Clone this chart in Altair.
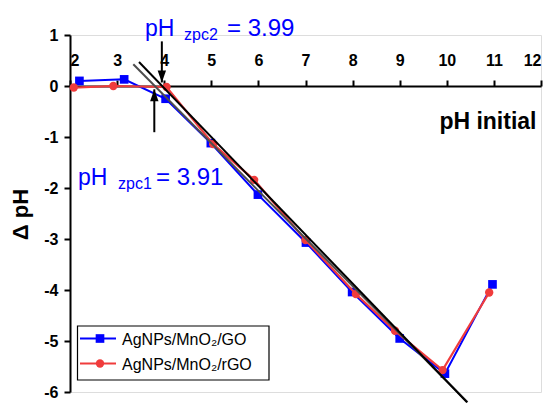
import altair as alt
import pandas as pd

# ---------------- data ----------------
series_names = ["AgNPs/MnO₂/GO", "AgNPs/MnO₂/rGO"]
series_colors = ["#0000FF", "#F03C3C"]

ph_go = [2.2, 3.15, 4.03, 4.99, 5.99, 7.01, 7.99, 9.0, 9.96, 10.97]
dph_go = [0.1, 0.13, -0.25, -1.12, -2.13, -3.07, -4.04, -4.95, -5.64, -3.89]

ph_rgo = [2.08, 2.92, 4.05, 5.04, 5.91, 7.0, 8.07, 8.9, 9.91, 10.9]
dph_rgo = [-0.03, 0.0, -0.02, -1.14, -1.84, -3.02, -4.08, -4.8, -5.57, -4.05]

# tangent lines (two end points each)
tan2_ph = [3.465, 10.43]
tan2_dph = [0.47, -6.2]
tan1_ph = [3.344, 10.44]
tan1_dph = [0.425, -6.2]

# arrows: x, start, tip
arrow_down = {"ph": 3.95, "start": 0.875, "tip": 0.07}
arrow_up = {"ph": 3.79, "start": -0.906, "tip": -0.065}

zpc1_value = "3.91"
zpc2_value = "3.99"

x_ticks = list(range(2, 13))
y_ticks = list(range(-6, 2))

FONT = "Liberation Sans"
W, H = 471, 357

# ---------------- encodings ----------------
def xenc(field):
    return alt.X(
        f"{field}:Q",
        scale=alt.Scale(domain=[2, 12], nice=False, zero=False),
        axis=alt.Axis(
            orient="top", offset=-51, values=x_ticks, grid=False,
            labelExpr="'' + datum.value", labelFont=FONT, labelFontSize=16,
            labelFontWeight="bold", labelColor="black", labelPadding=12,
            tickSize=6, tickWidth=2, tickColor="black",
            domainWidth=2, domainColor="black",
            title="pH initial", titleFont=FONT, titleFontSize=23,
            titleFontWeight="bold", titleColor="black",
            titleX=466, titleY=42, titleAlign="right",
            titleBaseline="alphabetic", titleAngle=0,
        ),
    )


def yenc(field):
    return alt.Y(
        f"{field}:Q",
        scale=alt.Scale(domain=[-6, 1], nice=False, zero=False),
        axis=alt.Axis(
            values=y_ticks, grid=False,
            labelExpr="'' + datum.value", labelFont=FONT, labelFontSize=16,
            labelFontWeight="bold", labelColor="black", labelPadding=6,
            tickSize=6, tickWidth=2, tickColor="black",
            domainWidth=2, domainColor="black",
            title="Δ pH", titleFont=FONT, titleFontSize=22,
            titleFontWeight="bold", titleColor="black",
            titleAngle=270, titleX=-43, titleY=179,
            titleAlign="center", titleBaseline="alphabetic",
        ),
    )


go_df = pd.DataFrame({"ph": ph_go, "dph": dph_go})
rgo_df = pd.DataFrame({"ph": ph_rgo, "dph": dph_rgo})
tan1_df = pd.DataFrame({"ph": tan1_ph, "dph": tan1_dph})
tan2_df = pd.DataFrame({"ph": tan2_ph, "dph": tan2_dph})
arrow_df = pd.DataFrame([arrow_down, arrow_up])
arrow_down_df = pd.DataFrame([arrow_down])
arrow_up_df = pd.DataFrame([arrow_up])
one = pd.DataFrame({"k": [0]})

layers = []

# series
go_line = alt.Chart(go_df).mark_line(color=series_colors[0], strokeWidth=2).encode(
    x=xenc("ph"), y=yenc("dph"))
go_pts = alt.Chart(go_df).mark_point(shape="square", filled=True, size=75,
                                     color=series_colors[0], opacity=1).encode(
    x=xenc("ph"), y=yenc("dph"))
rgo_line = alt.Chart(rgo_df).mark_line(color=series_colors[1], strokeWidth=2.2).encode(
    x=xenc("ph"), y=yenc("dph"))
rgo_pts = alt.Chart(rgo_df).mark_point(shape="circle", filled=True, size=70,
                                       color=series_colors[1], opacity=1).encode(
    x=xenc("ph"), y=yenc("dph"))
layers += [go_line, go_pts, rgo_line, rgo_pts]

# tangent lines
t1 = alt.Chart(tan1_df).mark_line(color="#4d4d4d", strokeWidth=2, clip=False).encode(
    x=xenc("ph"), y=yenc("dph"))
t2 = alt.Chart(tan2_df).mark_line(color="black", strokeWidth=2, clip=False).encode(
    x=xenc("ph"), y=yenc("dph"))
layers += [t1, t2]

# arrows
shafts = alt.Chart(arrow_df).mark_rule(color="black", strokeWidth=2).encode(
    x=xenc("ph"), y=yenc("start"), y2="tip:Q")
head_down = alt.Chart(arrow_down_df).mark_point(
    shape="M-0.7,-2L0.7,-2L0,0Z", filled=True, size=144, color="black", opacity=1
).encode(x=xenc("ph"), y=yenc("tip"))
head_up = alt.Chart(arrow_up_df).mark_point(
    shape="M-0.7,2L0.7,2L0,0Z", filled=True, size=144, color="black", opacity=1
).encode(x=xenc("ph"), y=yenc("tip"))
layers += [shafts, head_down, head_up]


# annotation text (pixel positions relative to plot area)
def txt(text, x, y, size, color="#0000FF", weight="normal"):
    return alt.Chart(one).mark_text(
        text=text, font=FONT, fontSize=size, color=color, fontWeight=weight,
        align="left", baseline="alphabetic"
    ).encode(x=alt.value(x), y=alt.value(y))


layers += [
    txt("pH", 75, 1, 23), txt("zpc2", 114, 5, 16), txt("= " + zpc2_value, 157, 1, 24),
    txt("pH", 8, 150, 23), txt("zpc1", 48, 154, 16), txt("= " + zpc1_value, 86, 150, 24),
]

# legend (manual)
legend_box = alt.Chart(one).mark_rect(fill="white", stroke="black", strokeWidth=1.2).encode(
    x=alt.value(7.5), x2=alt.value(199), y=alt.value(291), y2=alt.value(345))
layers.append(legend_box)
row_y = [303.5, 328.5]
shapes = ["square", "circle"]
sizes = [75, 70]
for i in range(2):
    layers.append(alt.Chart(one).mark_rule(color=series_colors[i], strokeWidth=2).encode(
        x=alt.value(10), x2=alt.value(46), y=alt.value(row_y[i])))
    layers.append(alt.Chart(one).mark_point(shape=shapes[i], filled=True, size=sizes[i],
                                            color=series_colors[i], opacity=1).encode(
        x=alt.value(30), y=alt.value(row_y[i])))
    layers.append(alt.Chart(one).mark_text(
        text=series_names[i], font=FONT, fontSize=16, color="black",
        align="left", baseline="middle").encode(
        x=alt.value(52), y=alt.value(row_y[i] + 1)))

chart = alt.layer(*layers).properties(
    width=W, height=H,
    autosize=alt.AutoSizeParams(type="none"),
    padding={"left": 62, "top": 27, "right": 8, "bottom": 12},
).configure_view(stroke=None).configure(background="white")

chart.save("out.html", embed_options={"renderer": "svg", "actions": False})
